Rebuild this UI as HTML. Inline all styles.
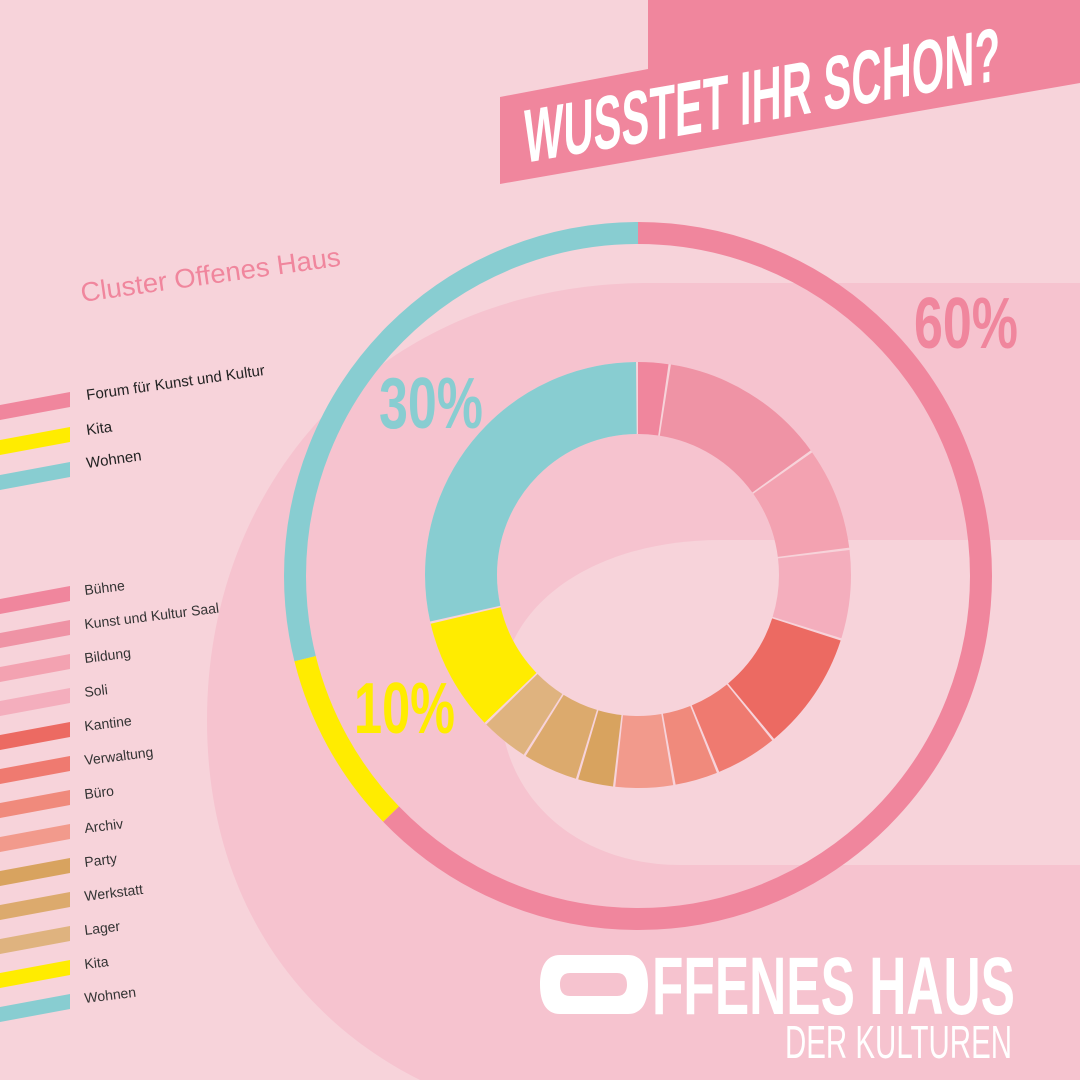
<!DOCTYPE html>
<html><head><meta charset="utf-8"><style>
html,body{margin:0;padding:0;background:#f7d3da;}
svg{display:block}
</style></head><body>
<svg width="1080" height="1080" viewBox="0 0 1080 1080" xmlns="http://www.w3.org/2000/svg">
<rect width="1080" height="1080" fill="#f7d3da"/>
<!-- big background shape -->
<path d="M1080 283 L650 283 C380 283 207 480 207 720 C207 900 300 1020 420 1080 L1080 1080 Z" fill="#f6c3cf"/>
<path d="M1080 540 L720 540 C600 540 500 600 500 700 C500 800 580 865 680 865 L1080 865 Z" fill="#f7d3da"/>
<!-- banner -->
<polygon points="500,97 648,69 648,0 1080,0 1080,83 500,184" fill="#f0869d"/>
<g transform="translate(524,163) skewY(-9.9)">
<text x="0" y="0" font-family="Liberation Sans Narrow, Liberation Sans, sans-serif" font-weight="bold" font-size="76" fill="#fff" textLength="476" lengthAdjust="spacingAndGlyphs">WUSSTET IHR SCHON?</text>
</g>
<!-- cluster title -->
<text x="82" y="302" transform="rotate(-8 82 302)" font-family="Liberation Sans Narrow, Liberation Sans, sans-serif" font-size="27" fill="#f0869d" textLength="262" lengthAdjust="spacingAndGlyphs">Cluster Offenes Haus</text>
<!-- top legend -->
<g font-family="Liberation Sans, sans-serif" font-size="15" fill="#222">
<polygon points="0,405 70,392 70,407 0,420" fill="#f0869d"/>
<polygon points="0,440 70,427 70,442 0,455" fill="#ffec00"/>
<polygon points="0,475 70,462 70,477 0,490" fill="#88cdd1"/>
<text x="87" y="400" transform="rotate(-8 87 400)">Forum für Kunst und Kultur</text>
<text x="87" y="435" transform="rotate(-8 87 435)">Kita</text>
<text x="87" y="468" transform="rotate(-8 87 468)">Wohnen</text>
</g>
<!-- bottom legend -->
<g font-family="Liberation Sans, sans-serif" font-size="14" fill="#333">
<g id="lg">
<polygon points="0,599 70,586 70,601 0,614" fill="#f0869d"/>
<polygon points="0,633 70,620 70,635 0,648" fill="#ef93a5"/>
<polygon points="0,667 70,654 70,669 0,682" fill="#f3a2b1"/>
<polygon points="0,701 70,688 70,703 0,716" fill="#f4aebd"/>
<polygon points="0,735 70,722 70,737 0,750" fill="#ec6a62"/>
<polygon points="0,769 70,756 70,771 0,784" fill="#ef7a70"/>
<polygon points="0,803 70,790 70,805 0,818" fill="#f08a7c"/>
<polygon points="0,837 70,824 70,839 0,852" fill="#f29a8c"/>
<polygon points="0,871 70,858 70,873 0,886" fill="#d8a35f"/>
<polygon points="0,905 70,892 70,907 0,920" fill="#dcaa6d"/>
<polygon points="0,939 70,926 70,941 0,954" fill="#dfb37f"/>
<polygon points="0,973 70,960 70,975 0,988" fill="#ffec00"/>
<polygon points="0,1007 70,994 70,1009 0,1022" fill="#88cdd1"/>
</g>
<text x="85" y="595" transform="rotate(-7 85 595)">Bühne</text>
<text x="85" y="629" transform="rotate(-7 85 629)">Kunst und Kultur Saal</text>
<text x="85" y="663" transform="rotate(-7 85 663)">Bildung</text>
<text x="85" y="697" transform="rotate(-7 85 697)">Soli</text>
<text x="85" y="731" transform="rotate(-7 85 731)">Kantine</text>
<text x="85" y="765" transform="rotate(-7 85 765)">Verwaltung</text>
<text x="85" y="799" transform="rotate(-7 85 799)">Büro</text>
<text x="85" y="833" transform="rotate(-7 85 833)">Archiv</text>
<text x="85" y="867" transform="rotate(-7 85 867)">Party</text>
<text x="85" y="901" transform="rotate(-7 85 901)">Werkstatt</text>
<text x="85" y="935" transform="rotate(-7 85 935)">Lager</text>
<text x="85" y="969" transform="rotate(-7 85 969)">Kita</text>
<text x="85" y="1003" transform="rotate(-7 85 1003)">Wohnen</text>
</g>
<!-- outer ring -->
<g transform="rotate(-90 638 576)" fill="none" stroke-width="22">
<circle cx="638" cy="576" r="343" stroke="#f0869d" stroke-dasharray="1353.1 5000" stroke-dashoffset="0"/>
<circle cx="638" cy="576" r="343" stroke="#ffec00" stroke-dasharray="179.6 5000" stroke-dashoffset="-1353.1"/>
<circle cx="638" cy="576" r="343" stroke="#88cdd1" stroke-dasharray="622.6 5000" stroke-dashoffset="-1532.7"/>
</g>
<!-- inner donut -->
<g transform="rotate(-90 638 575)" fill="none" stroke-width="72">
<circle cx="638" cy="575" r="177" stroke="#f7d3da" stroke-dasharray="1120 5000"/>
<circle cx="638" cy="575" r="177" stroke="#f0869d" stroke-dasharray="25.5 5000" stroke-dashoffset="0"/>
<circle cx="638" cy="575" r="177" stroke="#ef93a5" stroke-dasharray="139.8 5000" stroke-dashoffset="-27.5"/>
<circle cx="638" cy="575" r="177" stroke="#f3a2b1" stroke-dasharray="85.7 5000" stroke-dashoffset="-169.3"/>
<circle cx="638" cy="575" r="177" stroke="#f4aebd" stroke-dasharray="74.3 5000" stroke-dashoffset="-257.0"/>
<circle cx="638" cy="575" r="177" stroke="#ec6a62" stroke-dasharray="99.9 5000" stroke-dashoffset="-333.3"/>
<circle cx="638" cy="575" r="177" stroke="#ef7a70" stroke-dasharray="51.4 5000" stroke-dashoffset="-435.2"/>
<circle cx="638" cy="575" r="177" stroke="#f08a7c" stroke-dasharray="35.7 5000" stroke-dashoffset="-488.7"/>
<circle cx="638" cy="575" r="177" stroke="#f29a8c" stroke-dasharray="48.4 5000" stroke-dashoffset="-526.4"/>
<circle cx="638" cy="575" r="177" stroke="#d8a35f" stroke-dasharray="29.5 5000" stroke-dashoffset="-576.7"/>
<circle cx="638" cy="575" r="177" stroke="#dcaa6d" stroke-dasharray="45.9 5000" stroke-dashoffset="-608.2"/>
<circle cx="638" cy="575" r="177" stroke="#dfb37f" stroke-dasharray="40.0 5000" stroke-dashoffset="-656.1"/>
<circle cx="638" cy="575" r="177" stroke="#ffec00" stroke-dasharray="94.7 5000" stroke-dashoffset="-698.1"/>
<circle cx="638" cy="575" r="177" stroke="#88cdd1" stroke-dasharray="315.2 5000" stroke-dashoffset="-794.8"/>
</g>
<!-- percentages -->
<g font-family="Liberation Sans Narrow, Liberation Sans, sans-serif" font-weight="bold" font-size="72">
<text x="914" y="348" fill="#f0869d" textLength="104" lengthAdjust="spacingAndGlyphs">60%</text>
<text x="379" y="428" fill="#88cdd1" textLength="104" lengthAdjust="spacingAndGlyphs">30%</text>
<text x="354" y="733" fill="#ffec00" textLength="101" lengthAdjust="spacingAndGlyphs">10%</text>
</g>
<!-- logo -->
<path d="M560 955 L628 955 C642 955 648 967 648 984.5 C648 1002 642 1014 628 1014 L560 1014 C546 1014 540 1002 540 984.5 C540 967 546 955 560 955 Z M570 973 C562 973 560 979 560 984.5 C560 990 562 996 570 996 L617 996 C625 996 627 990 627 984.5 C627 979 625 973 617 973 Z" fill="#fff" fill-rule="evenodd"/>
<text x="652" y="1014" font-family="Liberation Sans Narrow, Liberation Sans, sans-serif" font-weight="bold" font-size="82" fill="#fff" textLength="363" lengthAdjust="spacingAndGlyphs">FFENES HAUS</text>
<text x="785" y="1058" font-family="Liberation Sans Narrow, Liberation Sans, sans-serif" font-size="46" fill="#fff" textLength="227" lengthAdjust="spacingAndGlyphs">DER KULTUREN</text>
</svg>
</body></html>
